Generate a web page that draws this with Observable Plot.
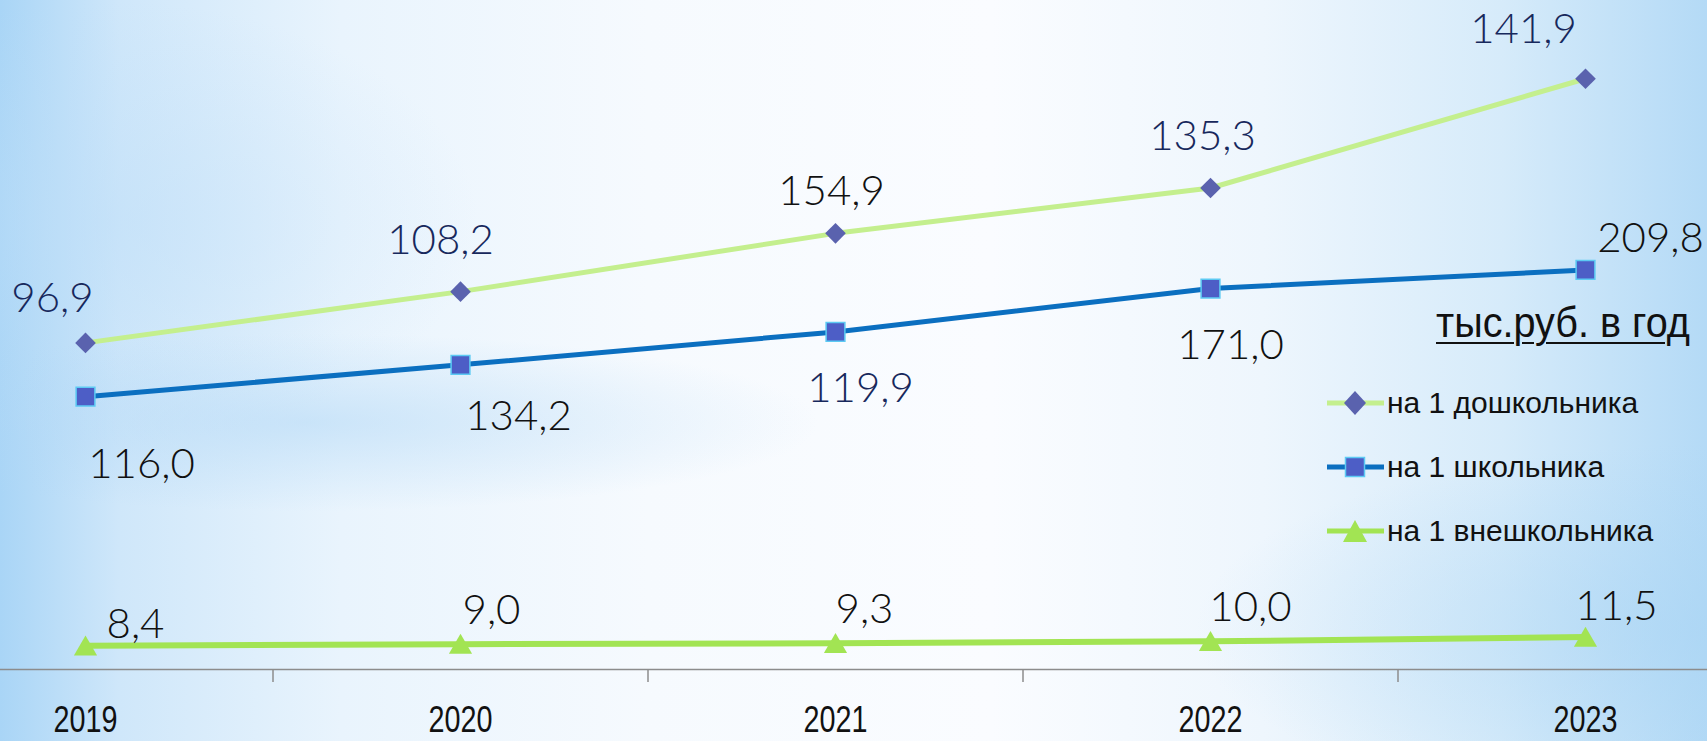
<!DOCTYPE html>
<html>
<head>
<meta charset="utf-8">
<script src="https://cdn.jsdelivr.net/npm/d3@7"></script>
<script src="https://cdn.jsdelivr.net/npm/@observablehq/plot@0.6"></script>
<style>
  html, body { margin: 0; padding: 0; }
  #wrap {
    position: relative; width: 1707px; height: 741px; overflow: hidden;
    background:
      radial-gradient(ellipse 30% 12% at 18% 57%, rgba(178,216,246,0.55), rgba(178,216,246,0) 100%),
      radial-gradient(ellipse 22% 30% at 6% 30%, rgba(190,222,248,0.5), rgba(190,222,248,0) 100%),
      radial-gradient(ellipse 30% 25% at 100% 85%, rgba(168,212,244,0.55), rgba(168,212,244,0) 100%),
      linear-gradient(90deg, #a9d5f6 0%, #cfe7fa 7%, #e9f4fd 20%, #f6fafe 38%, #fafcff 58%, #eef6fd 74%, #d6ebfa 88%, #b4daf6 100%);
  }
  #chart { position: absolute; left: 0; top: 0; }
  .unit {
    position: absolute; left: 1436px; top: 302px;
    font-family: "Liberation Sans", Arial, sans-serif;
    font-size: 42px; color: #111; text-decoration: underline; text-decoration-thickness: 2px;
    text-underline-offset: 5px; white-space: nowrap; line-height: 1;
    display: inline-block; transform-origin: 0 0;
  }
  .legend { position: absolute; left: 1327px; top: 0; }
  .row { position: absolute; left: 0; height: 40px; display: flex; align-items: center; white-space: nowrap; }
  .row svg { display: block; }
  .row span {
    font-family: "Liberation Sans", Arial, sans-serif; font-size: 30px; color: #111; margin-left: 3px;
  }
</style>
</head>
<body>
<div id="wrap"></div>
<script>
// ---- data ----
const years = [2019, 2020, 2021, 2022, 2023];
const preschool = [116.0, 134.2, 154.9, 171.0, 209.8];   // на 1 дошкольника (ромбы)
const school = [96.9, 108.2, 119.9, 135.3, 141.9];       // на 1 школьника (квадраты)
const extra = [8.4, 9.0, 9.3, 10.0, 11.5];               // на 1 внешкольника (треугольники)
const seriesNames = ["на 1 дошкольника", "на 1 школьника", "на 1 внешкольника"];
const unitLabel = "тыс.руб. в год";

// ---- layout of data labels (pixel offsets from each point, as placed in the original) ----
const preschoolLabelOffsets = [[56, 122], [58, 125], [-4, -42], [20, 158], [65, 160]];
const schoolLabelOffsets = [[-33, -98], [-20, -124], [25, 57], [-8, -152], [-62, -240]];
const extraLabelOffsets = [[50, -21], [31, -34], [29, -34], [40, -34], [31, -31]];

const rows = years.map((year, i) => ({year, preschool: preschool[i], school: school[i], extra: extra[i]}));
const fmt = v => v.toFixed(1).replace(".", ",");
const boundaries = years.slice(1).map(y => y - 0.5);

const colors = {
  preschoolLine: "#c4ef8e", preschoolDot: "#5a62ae", preschoolText: "#111111",
  schoolLine: "#0b6fc0", schoolDot: "#4d5ec6", schoolDotStroke: "#5ccaf3", schoolText: "#17285c",
  extraLine: "#a2e453", extraText: "#111111"
};
const labelFont = {fontFamily: "Lato, 'Noto Sans', sans-serif", fontWeight: 300, fontSize: 42};

function labelMarks(key, offsets, fill) {
  return rows.map((r, i) => Plot.text([r], {
    x: "year", y: key, text: d => fmt(d[key]),
    dx: offsets[i][0], dy: offsets[i][1],
    textAnchor: "middle", lineAnchor: "middle", fill, ...labelFont
  }));
}

const chart = Plot.plot({
  width: 1707, height: 741,
  marginTop: 0, marginBottom: 72, marginLeft: 0, marginRight: 0,
  x: {domain: [2019, 2023], range: [85, 1585], axis: null},
  y: {domain: [0, 237.6], axis: null},
  style: {background: "transparent", overflow: "visible"},
  marks: [
    Plot.ruleY([0], {stroke: "#8c8c8c", strokeWidth: 1.5}),
    Plot.axisX(boundaries, {tickSize: 13, stroke: "#8c8c8c", strokeWidth: 1.5, tickFormat: () => "", label: null}),
    Plot.axisX(years, {tickSize: 0, tickPadding: 37, tickFormat: d => String(d), label: null,
      fontSize: 36, fontWeight: 400, fontFamily: "'Liberation Sans', Arial, sans-serif", fill: "#111"}),
    Plot.line(rows, {x: "year", y: "preschool", stroke: colors.preschoolLine, strokeWidth: 5}),
    Plot.line(rows, {x: "year", y: "school", stroke: colors.schoolLine, strokeWidth: 5}),
    Plot.line(rows, {x: "year", y: "extra", stroke: colors.extraLine, strokeWidth: 6}),
    Plot.dot(rows, {x: "year", y: "preschool", symbol: "diamond2", r: 9.3, fill: colors.preschoolDot}),
    Plot.dot(rows, {x: "year", y: "school", symbol: "square", r: 10.6, fill: colors.schoolDot, stroke: colors.schoolDotStroke, strokeWidth: 1.5}),
    Plot.dot(rows, {x: "year", y: "extra", symbol: "triangle", r: 8.6, fill: colors.extraLine, dy: 3}),
    ...labelMarks("preschool", preschoolLabelOffsets, colors.preschoolText),
    ...labelMarks("school", schoolLabelOffsets, colors.schoolText),
    ...labelMarks("extra", extraLabelOffsets, colors.extraText)
  ]
});
chart.id = "chart";
const wrap = document.getElementById("wrap");
wrap.appendChild(chart);

// narrow year labels (condensed face as in the original)
d3.select(chart).selectAll("g[aria-label='x-axis tick label'] text")
  .filter(function () { return this.textContent.trim().length > 0; })
  .attr("textLength", 64).attr("lengthAdjust", "spacingAndGlyphs");

// unit caption
const unit = document.createElement("div");
unit.className = "unit";
unit.textContent = unitLabel;
wrap.appendChild(unit);
const uw = unit.getBoundingClientRect().width;
unit.style.transform = `scaleX(${254 / uw})`;

// legend
const legend = document.createElement("div");
legend.className = "legend";
const legendDefs = [
  {name: seriesNames[0], line: colors.preschoolLine, symbol: "diamond", top: 383},
  {name: seriesNames[1], line: colors.schoolLine, symbol: "square", top: 447},
  {name: seriesNames[2], line: colors.extraLine, symbol: "triangle", top: 511}
];
for (const d of legendDefs) {
  const row = document.createElement("div");
  row.className = "row";
  row.style.top = d.top + "px";
  let marker = "";
  if (d.symbol === "diamond") marker = `<path d="M28,8 L39,20 L28,32 L17,20 Z" fill="${colors.preschoolDot}"/>`;
  if (d.symbol === "square") marker = `<rect x="18.5" y="10.5" width="19" height="19" fill="${colors.schoolDot}" stroke="${colors.schoolDotStroke}" stroke-width="1.5"/>`;
  if (d.symbol === "triangle") marker = `<path d="M28,9 L40,31 L16,31 Z" fill="${colors.extraLine}"/>`;
  row.innerHTML = `<svg width="57" height="40"><line x1="0" x2="57" y1="20" y2="20" stroke="${d.line}" stroke-width="5" stroke-linecap="round"/>${marker}</svg><span>${d.name}</span>`;
  legend.appendChild(row);
}
wrap.appendChild(legend);
</script>
</body>
</html>
